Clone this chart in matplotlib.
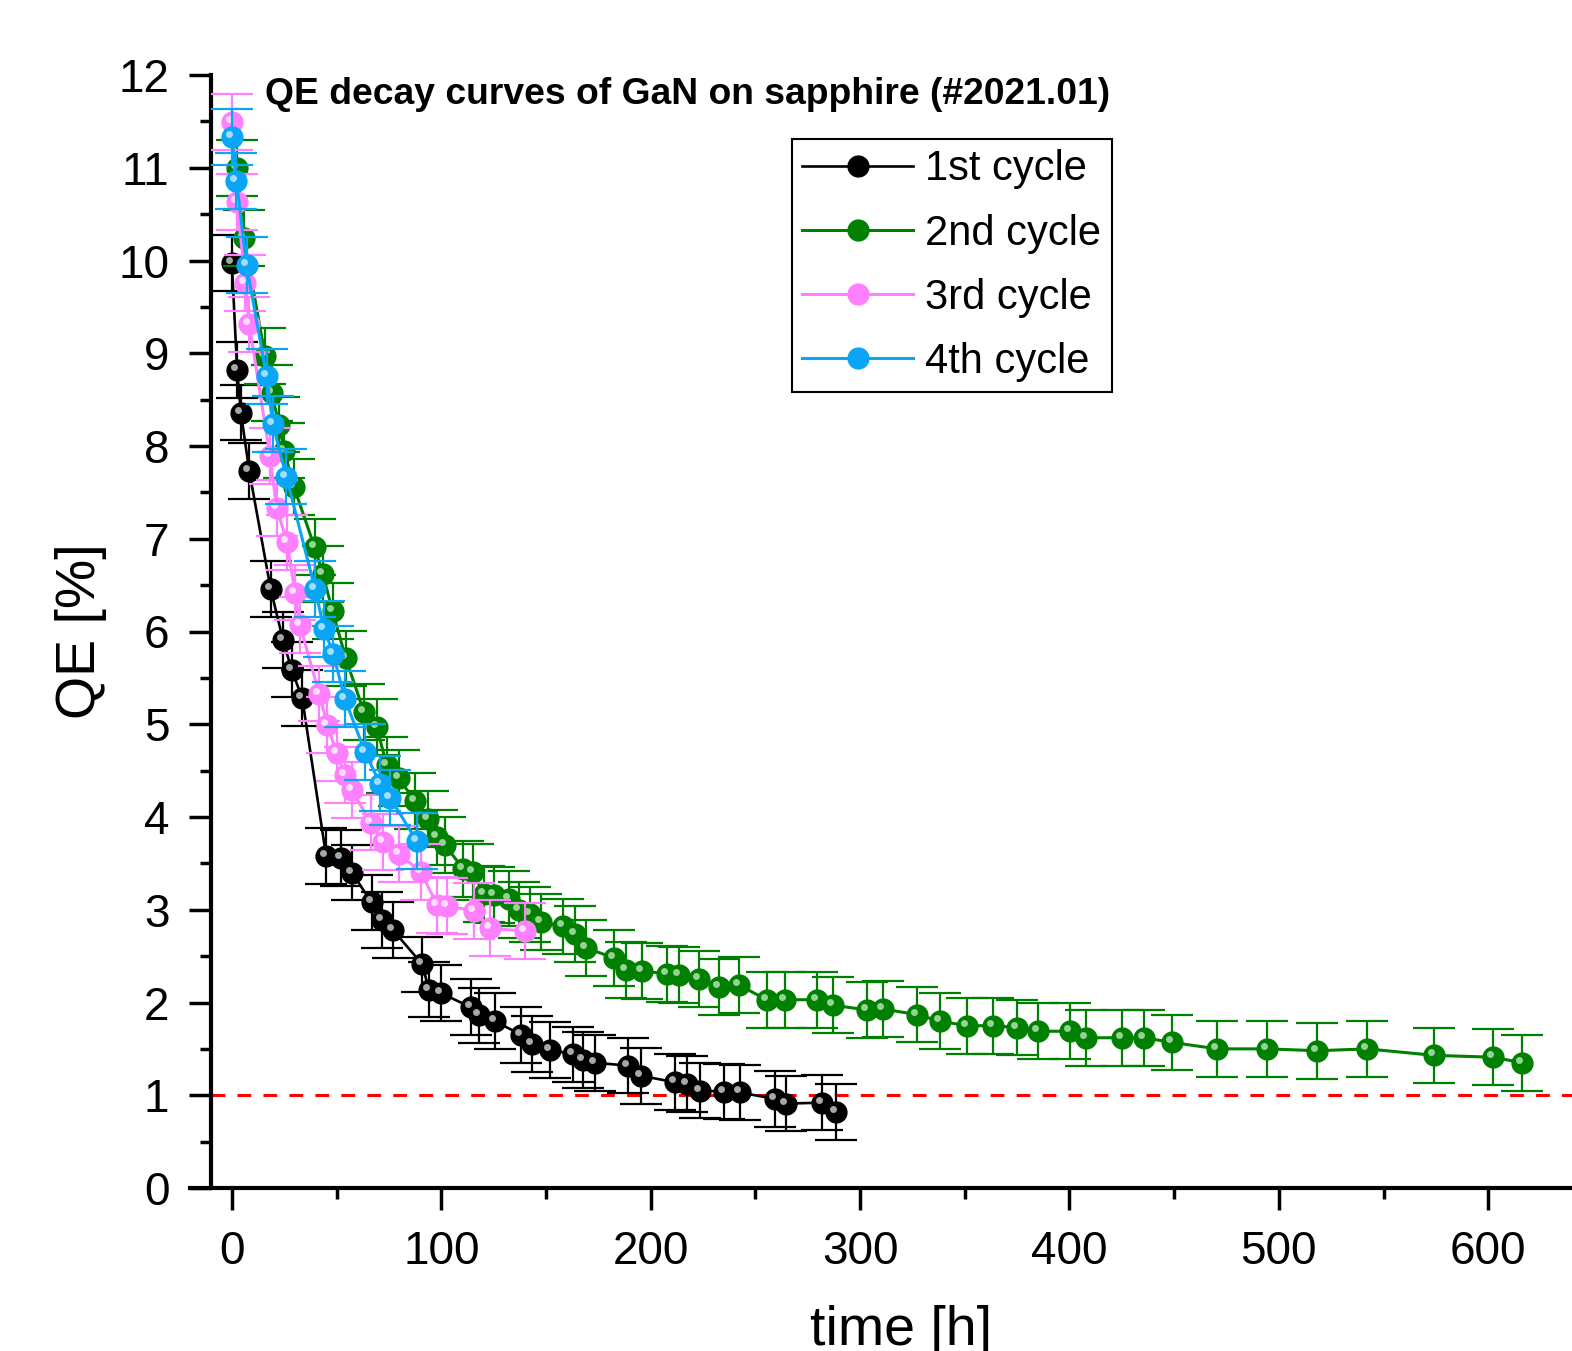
import numpy as np
import matplotlib
matplotlib.use("Agg")
import matplotlib.pyplot as plt
import matplotlib.transforms as mtransforms
from matplotlib.ticker import MultipleLocator

plt.rcParams['font.family'] = ['Liberation Sans', 'DejaVu Sans']

# 1st cycle
t_1st = [0, 2.5, 4.3, 8.3, 18.5, 24.4, 28.5, 33.6, 45, 52, 57.3, 66.7, 71.5, 77,
         91, 94, 100, 114, 118, 125.5, 138.3, 143.5, 152, 163, 167.5, 173.5,
         189, 195.5, 211.5, 217.5, 223.5, 234.8, 242.5, 259.6, 264.7, 281.7, 288.6]
qe_1st = [9.97, 8.82, 8.36, 7.73, 6.46, 5.91, 5.59, 5.28, 3.58, 3.56, 3.40, 3.08, 2.89, 2.78,
          2.41, 2.14, 2.10, 1.95, 1.86, 1.80, 1.65, 1.55, 1.49, 1.44, 1.38, 1.35,
          1.32, 1.21, 1.14, 1.12, 1.05, 1.04, 1.03, 0.96, 0.91, 0.92, 0.82]

# 2nd cycle
t_2nd = [2.5, 5.8, 15.9, 19, 22.5, 25, 29.6, 39.5, 43.4, 48.1, 54.4, 63.1, 69.2, 73.9,
         79.6, 87.5, 93.6, 98, 101.7, 110.5, 115, 120.2, 125, 132.3, 137.1, 142.2,
         147.7, 157.9, 164, 169, 182.5, 188, 195.7, 207.7, 213.5, 223.3, 232.7, 242,
         255.4, 264, 279.5, 287.3, 303.3, 310.8, 327.2, 338, 351, 363.5, 375, 384.8,
         400.2, 407.9, 425, 435.7, 448.8, 470.6, 494.5, 518.4, 542.2, 574.2, 602.4, 616.2]
qe_2nd = [11.0, 10.24, 8.97, 8.57, 8.23, 7.95, 7.56, 6.91, 6.62, 6.22, 5.71, 5.13, 4.97, 4.56,
          4.42, 4.17, 3.98, 3.78, 3.70, 3.44, 3.41, 3.17, 3.16, 3.12, 3.00, 2.95,
          2.87, 2.82, 2.74, 2.59, 2.48, 2.35, 2.34, 2.31, 2.30, 2.25, 2.17, 2.19,
          2.03, 2.03, 2.03, 1.97, 1.92, 1.93, 1.87, 1.80, 1.75, 1.75, 1.73, 1.69,
          1.69, 1.62, 1.62, 1.62, 1.57, 1.50, 1.50, 1.48, 1.50, 1.43, 1.41, 1.35]

# 3rd cycle
t_3rd = [0, 2.5, 6.5, 8.3, 18.2, 21.4, 26.4, 30.1, 32.5, 41.7, 45.6, 50, 54, 57.2,
         66.3, 72, 79.8, 90.2, 98.1, 102.6, 115.8, 123.3, 140.2]
qe_3rd = [11.49, 10.63, 9.76, 9.31, 7.89, 7.33, 6.96, 6.42, 6.07, 5.33, 4.99, 4.69, 4.45, 4.29,
          3.94, 3.73, 3.60, 3.41, 3.05, 3.04, 2.99, 2.80, 2.77]

# 4th cycle
t_4th = [0, 2.2, 7, 16.6, 19.5, 26, 39.7, 44, 48.4, 54, 63.6, 70.7, 75.5, 88.3]
qe_4th = [11.33, 10.86, 9.95, 8.75, 8.24, 7.67, 6.46, 6.03, 5.76, 5.27, 4.70, 4.36, 4.21, 3.74]

qe_err = 0.3
threshold = 1.0

labels = ['1st cycle', '2nd cycle', '3rd cycle', '4th cycle']
colors = ['black', '#008000', '#ff80ff', '#0aa5f5']
shine = ['#e0e0e0', '#c8f0c8', '#ffffff', '#d8f2ff']

fig = plt.figure(figsize=(15.72, 13.51), dpi=100)
ax = fig.add_axes([190 / 1572, 1 - 1188 / 1351, 1 - 190 / 1572, 1113 / 1351])

ax.hlines(threshold, -10, 640, colors='red', linestyles=(0, (4.5, 4)), linewidth=2.2, zorder=1)

series = [(t_1st, qe_1st), (t_2nd, qe_2nd), (t_3rd, qe_3rd), (t_4th, qe_4th)]
hl_offset = mtransforms.ScaledTranslation(-3 / 100, 3 / 100, fig.dpi_scale_trans)
handles = []
for i, (t, q) in enumerate(series):
    c = colors[i]
    lw = 1.9 if i == 0 else 2.2
    eb = ax.errorbar(t, q, yerr=qe_err, fmt='-o', color=c, ms=15, lw=lw, mec=c,
                     elinewidth=1.6, capsize=15, capthick=1.6, zorder=3 + i,
                     label=labels[i])
    # small highlight to give the ball look
    ax.plot(t, q, 'o', ms=5, color=shine[i], alpha=0.75, mec='none',
            transform=ax.transData + hl_offset, zorder=3.5 + i)
    handles.append(eb[0])

ax.set_xlim(-20, 640)
ax.set_ylim(0, 12)
ax.spines['left'].set_position(('data', -10))
ax.spines['top'].set_visible(False)
ax.spines['right'].set_visible(False)
for s in ['left', 'bottom']:
    ax.spines[s].set_linewidth(3)

ax.xaxis.set_major_locator(MultipleLocator(100))
ax.xaxis.set_minor_locator(MultipleLocator(50))
ax.yaxis.set_major_locator(MultipleLocator(1))
ax.yaxis.set_minor_locator(MultipleLocator(0.5))
ax.tick_params(which='major', length=16, width=2.5, labelsize=33, pad=14)
ax.tick_params(which='minor', length=8, width=2.5)

ax.set_xlabel('time [h]', fontsize=40, labelpad=30)
ax.xaxis.set_label_coords((901 - 190) / 1382, -0.105)
ax.set_ylabel('QE [%]', fontsize=40, labelpad=8)

fig.text(265 / 1572, 1 - 77 / 1351, 'QE decay curves of GaN on sapphire (#2021.01)',
         fontsize=26.8, fontweight='bold', va='top', ha='left')

leg = ax.legend(handles=handles, labels=labels, loc='upper left',
                bbox_to_anchor=((792 - 190) / 1382, (1188 - 139) / 1113),
                borderaxespad=0, fontsize=30, handlelength=2.65, handletextpad=0.3,
                labelspacing=0.58, borderpad=0.25, fancybox=False, framealpha=1)
leg.get_frame().set_edgecolor('black')
leg.get_frame().set_linewidth(1.5)

fig.savefig('out.png', dpi=100)
